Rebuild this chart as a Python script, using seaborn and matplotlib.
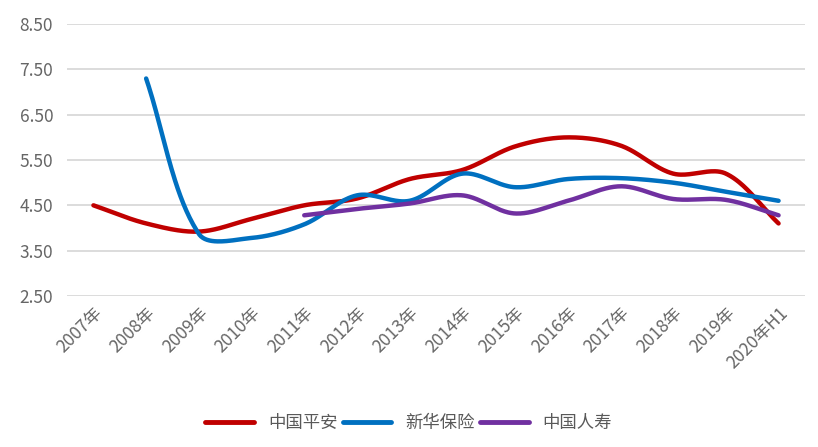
import numpy as np
import pandas as pd
import matplotlib
matplotlib.use("Agg")
import matplotlib.pyplot as plt
import matplotlib.transforms as mtransforms
import seaborn as sns

categories = ["2007年", "2008年", "2009年", "2010年", "2011年", "2012年", "2013年",
              "2014年", "2015年", "2016年", "2017年", "2018年", "2019年", "2020年H1"]
pingan = [4.50, 4.10, 3.92, 4.20, 4.50, 4.65, 5.08, 5.28, 5.80, 6.00, 5.82, 5.20, 5.20, 4.10]
xinhua = [np.nan, 7.30, 3.87, 3.78, 4.08, 4.72, 4.60, 5.20, 4.90, 5.08, 5.10, 5.00, 4.80, 4.60]
renshou = [np.nan, np.nan, np.nan, np.nan, 4.28, 4.42, 4.54, 4.72, 4.32, 4.60, 4.92, 4.64, 4.62, 4.28]
series_names = ["中国平安", "新华保险", "中国人寿"]
colors = ["#C00000", "#0070C0", "#7030A0"]

sns.set_theme(style="white")
plt.rcParams['font.family'] = ['Noto Sans CJK SC', 'DejaVu Sans']

XS = 52.7 / 45.3  # aspect of the plot area (px per x unit / px per y unit)


def smooth(xs, ys, n=40):
    # length-weighted Bezier smoothing (Excel-like smoothed line), rendering only
    P = np.column_stack([np.asarray(xs, float) * XS, np.asarray(ys, float)])
    m = len(P)
    ox, oy = [], []
    for i in range(m - 1):
        p0 = P[i - 1] if i > 0 else P[i]
        p1, p2 = P[i], P[i + 1]
        p3 = P[i + 2] if i + 2 < m else P[i + 1]
        L0 = np.linalg.norm(p1 - p0); L1 = np.linalg.norm(p2 - p1); L2 = np.linalg.norm(p3 - p2)
        w1 = L1 / (L0 + L1) if (L0 + L1) > 0 else 0.5
        w2 = L1 / (L1 + L2) if (L1 + L2) > 0 else 0.5
        c1 = p1 + (p2 - p0) * w1 / 3.0
        c2 = p2 - (p3 - p1) * w2 / 3.0
        t = np.linspace(0, 1, n, endpoint=(i == m - 2))[:, None]
        pts = (1-t)**3*p1 + 3*(1-t)**2*t*c1 + 3*(1-t)*t**2*c2 + t**3*p2
        ox.extend(pts[:, 0] / XS); oy.extend(pts[:, 1])
    return np.array(ox), np.array(oy)


frames = []
for name, vals in zip(series_names, [pingan, xinhua, renshou]):
    idx = np.arange(len(categories))
    v = np.array(vals, float)
    m = ~np.isnan(v)
    sx, sy = smooth(idx[m], v[m])
    frames.append(pd.DataFrame({"x": sx, "y": sy, "series": name}))
df = pd.concat(frames, ignore_index=True)

fig = plt.figure(figsize=(8.18, 4.47), dpi=100)
ax = fig.add_axes([0.082, 0.338, 0.902, 0.608])

for name, c in zip(series_names, colors):
    sub = df[df.series == name]
    sns.lineplot(data=sub, x="x", y="y", ax=ax, color=c, linewidth=3.2,
                 sort=False, estimator=None, label=name,
                 solid_capstyle="round")

ax.set_xlim(-0.5, 13.5)
ax.set_ylim(2.5, 8.5)
yt = [2.5, 3.5, 4.5, 5.5, 6.5, 7.5, 8.5]
ax.set_yticks(yt)
ax.set_yticklabels([f"{v:.2f}" for v in yt], fontsize=12.5, color="#666666")
ax.set_xticks(range(len(categories)))
ax.set_xticklabels(categories, rotation=45, ha="right", rotation_mode="anchor",
                   fontsize=12.5, color="#666666")
offset = mtransforms.ScaledTranslation(-4 / 100, 0, fig.dpi_scale_trans)
for lab in ax.get_xticklabels():
    lab.set_transform(lab.get_transform() + offset)
ax.tick_params(axis="x", length=0, pad=6)
ax.tick_params(axis="y", length=0, pad=10)
ax.yaxis.grid(True, color="#D9D9D9", linewidth=1.3)
ax.xaxis.grid(False)
for s in ax.spines.values():
    s.set_visible(False)
ax.set_xlabel("")
ax.set_ylabel("")

leg = ax.legend(loc="center", bbox_to_anchor=(0.463, -0.467), ncol=3, frameon=False,
                fontsize=12.5, labelcolor="#595959", handlelength=2.8, columnspacing=0.3,
                handletextpad=0.8)
for h in leg.get_lines():
    h.set_linewidth(3.5)

fig.savefig("out.png", dpi=100, facecolor="white")
